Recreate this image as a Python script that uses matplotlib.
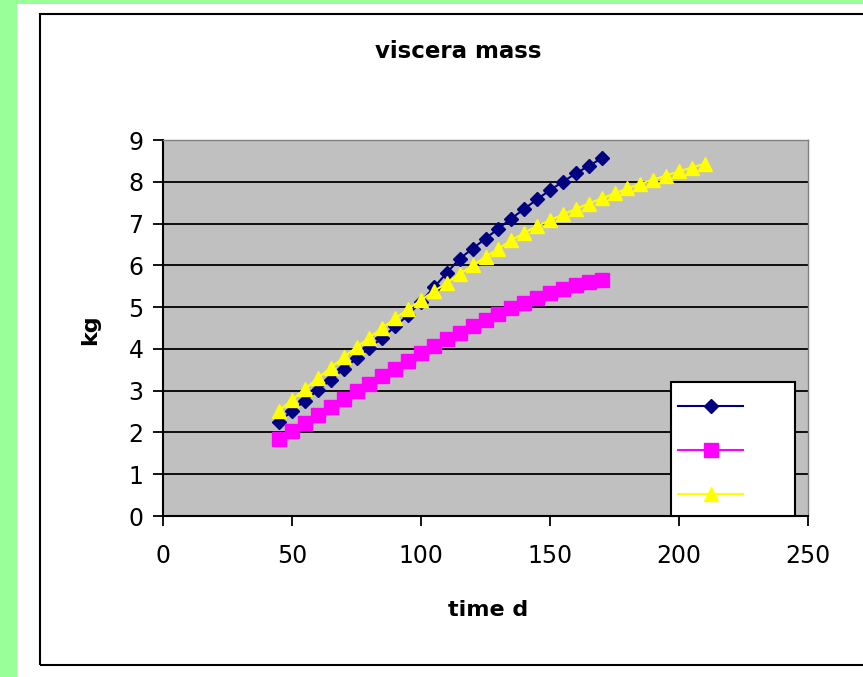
import numpy as np
import matplotlib
matplotlib.use('Agg')
import matplotlib.pyplot as plt
from matplotlib.patches import Rectangle

# time (days) and viscera mass (kg)
days_a = list(range(45, 171, 5))
mass_a = [2.26, 2.51, 2.76, 3.01, 3.26, 3.52, 3.77, 4.02, 4.27, 4.54,
          4.81, 5.13, 5.47, 5.82, 6.16, 6.40, 6.64, 6.88, 7.12, 7.35,
          7.58, 7.80, 8.00, 8.20, 8.38, 8.56]

days_b = list(range(45, 171, 5))
mass_b = [1.85, 2.04, 2.23, 2.42, 2.61, 2.80, 2.99, 3.17, 3.35, 3.53,
          3.71, 3.89, 4.06, 4.23, 4.39, 4.55, 4.70, 4.84, 4.97, 5.10,
          5.22, 5.33, 5.43, 5.52, 5.60, 5.66]

days_c = list(range(45, 211, 5))
mass_c = [2.52, 2.78, 3.04, 3.30, 3.55, 3.80, 4.04, 4.27, 4.50, 4.73,
          4.95, 5.17, 5.38, 5.58, 5.79, 6.00, 6.20, 6.40, 6.60, 6.78,
          6.94, 7.08, 7.22, 7.35, 7.48, 7.60, 7.72, 7.84, 7.95, 8.05,
          8.15, 8.25, 8.34, 8.43]

x_ticks = [0, 50, 100, 150, 200, 250]
y_ticks = list(range(0, 10))

W, H = 863, 677
fig = plt.figure(figsize=(W / 100, H / 100), dpi=100)
fig.patch.set_facecolor('#99FF99')

# white page and black chart border
fig.add_artist(Rectangle((17 / W, 0), 1, 1 - 4 / H, transform=fig.transFigure,
                         facecolor='white', edgecolor='none', zorder=-2))
fig.add_artist(Rectangle((40 / W, 1 - 665 / H), (900 - 40) / W, (665 - 14) / H,
                         transform=fig.transFigure, fill=False,
                         edgecolor='black', lw=1.5, zorder=-1))

ax = fig.add_axes([163 / W, 1 - 516 / H, 645 / W, 376 / H])
ax.set_facecolor('#C0C0C0')
ax.set_xlim(0, 250)
ax.set_ylim(0, 9)
ax.set_xticks(x_ticks)
ax.set_yticks(y_ticks)
ax.grid(axis='y', color='black', lw=1.3)
ax.set_axisbelow(True)

for side in ['top', 'right']:
    ax.spines[side].set_color('#808080')
    ax.spines[side].set_linewidth(1.0)
for side in ['left', 'bottom']:
    ax.spines[side].set_color('black')
    ax.spines[side].set_linewidth(1.5)

ax.tick_params(direction='out', length=7, width=1.3, labelsize=17)
ax.tick_params(axis='y', pad=7)
ax.tick_params(axis='x', pad=13)

l1, = ax.plot(days_a, mass_a, color='#000080', lw=1.5, marker='D', ms=7.2,
              mec='#000080', mfc='#000080')
l2, = ax.plot(days_b, mass_b, color='#FF00FF', lw=1.5, marker='s', ms=10,
              mec='#FF00FF', mfc='#FF00FF')
l3, = ax.plot(days_c, mass_c, color='#FFFF00', lw=1.5, marker='^', ms=10.5,
              mec='#FFFF00', mfc='#FFFF00')

# legend box (no labels in the original)
box = Rectangle((671 / W, 1 - 516 / H), 124 / W, 134 / H,
                transform=fig.transFigure, facecolor='white',
                edgecolor='black', lw=1.5, zorder=4, clip_on=False)
ax.add_patch(box)
leg = ax.legend([l1, l2, l3], [' ', ' ', ' '], loc='lower right',
                bbox_to_anchor=(795 / W, 1 - 523 / H),
                bbox_transform=fig.transFigure, borderaxespad=0,
                fontsize=10, handlelength=4.7, handletextpad=2.9,
                handleheight=3.16, labelspacing=0.86, borderpad=0.5,
                frameon=False)
leg.set_zorder(5)

fig.text(458 / W, 1 - 52 / H, 'viscera mass', ha='center', va='center',
         fontsize=16.5, fontweight='bold')
fig.text(90 / W, 1 - 330 / H, 'kg', ha='center', va='center', rotation=90,
         fontsize=16, fontweight='bold')
fig.text(488 / W, 1 - 610 / H, 'time d', ha='center', va='center',
         fontsize=16, fontweight='bold')

fig.savefig('out.png', dpi=100, facecolor=fig.get_facecolor())
